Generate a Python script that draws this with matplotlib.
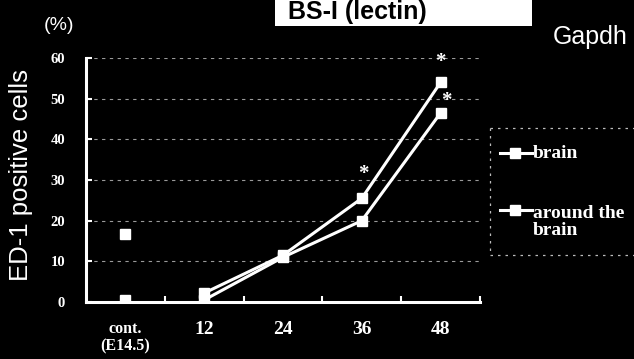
import numpy as np
import matplotlib
matplotlib.use('Agg')
import matplotlib.pyplot as plt

# categories on x axis
categories = ['cont.\n(E14.5)', '12', '24', '36', '48']
# ED-1 positive cells (%)
brain = [0.5, 2.2, 11.5, 25.5, 54.0]
around_brain = [16.7, 0.5, 11.0, 20.0, 46.5]
yticks = [0, 10, 20, 30, 40, 50, 60]
# significance marks: (category index, y value)
stars = [(4, 59.0), (4.07, 49.5), (3.02, 31.5)]

serif = 'Liberation Serif'
sans = 'Liberation Sans'

fig = plt.figure(figsize=(6.34, 3.59), dpi=100, facecolor='black')
ax = fig.add_axes([86 / 634, 1 - 302 / 359, (480 - 86) / 634, (302 - 58) / 359])
ax.set_facecolor('black')

x = np.arange(len(categories))
# cont. points are not joined to the time course
ax.plot(x[1:], brain[1:], color='white', lw=2.2, marker='s', ms=6.5, mfc='white', mec='white')
ax.plot(x[1:], around_brain[1:], color='white', lw=2.2, marker='s', ms=6.5, mfc='white', mec='white')
ax.plot([x[0], x[0]], [brain[0], around_brain[0]], ls='none', marker='s', ms=6.5, color='white')

ax.set_xlim(-0.5, 4.5)
ax.set_ylim(0, 60)

# faint dotted gridlines
for v in yticks[1:]:
    ax.axhline(v, color='#9a9a9a', lw=0.8, ls=(0, (3, 4)), zorder=0)

for sx, sy in stars:
    ax.text(sx, sy, '*', color='white', fontsize=15, family=serif, fontweight='bold',
            ha='center', va='center')

for side in ['top', 'right']:
    ax.spines[side].set_visible(False)
for side in ['left', 'bottom']:
    ax.spines[side].set_color('white')
    ax.spines[side].set_linewidth(2.2)

ax.set_yticks(yticks)
ax.set_yticklabels([str(v) for v in yticks], family=serif, fontweight='bold', fontsize=10.5, color='white')
ax.tick_params(axis='y', direction='in', length=4, width=1.5, color='white', pad=15)

ax.set_xticks(x)
ax.set_xticklabels(categories, family=serif, fontweight='bold', color='white', linespacing=1.05)
ax.set_xticks(np.arange(-0.5, 4.6, 1.0)[1:], minor=True)
ax.tick_params(axis='x', which='major', length=0, pad=14)
ax.tick_params(axis='x', which='minor', direction='in', length=4, width=1.5, color='white')
for i, lab in enumerate(ax.get_xticklabels()):
    lab.set_fontsize(11.5 if i == 0 else 14)

ax.set_ylabel('ED-1 positive cells', family=sans, fontsize=18.5, color='white')
ax.yaxis.set_label_coords(-0.135, 0.52)

fig.text(59 / 634, 1 - 26 / 359, '(%)', family=sans, fontsize=14, color='white', ha='center', va='center')

# title box, cut at the top like the scan
fig.patches.append(plt.Rectangle((275 / 634, 1 - 26 / 359), 257 / 634, 30 / 359,
                                 transform=fig.transFigure, facecolor='white', edgecolor='none'))
fig.text(288 / 634, 1 - 19 / 359, 'BS-I (lectin)', family=sans, fontweight='bold', fontsize=18,
         color='black', ha='left', va='baseline')
fig.text(553 / 634, 1 - 44 / 359, 'Gapdh', family=sans, fontsize=18, color='white', ha='left', va='baseline')

# legend drawn by hand with dotted frame
leg_items = [('brain', 153, 153), ('around the\nbrain', 210, 222)]
for label, line_y, text_y in leg_items:
    fy = 1 - line_y / 359
    fig.add_artist(plt.Line2D([500 / 634, 532 / 634], [fy, fy], color='white', lw=2.2,
                              transform=fig.transFigure))
    fig.add_artist(plt.Line2D([515 / 634], [fy], marker='s', ms=6.5, color='white',
                              transform=fig.transFigure))
    fig.text(533 / 634, 1 - text_y / 359, label, family=serif, fontweight='bold', fontsize=14,
             color='white', ha='left', va='center', linespacing=0.95)
dots = dict(color='#bbbbbb', lw=0.9, ls=(0, (2, 4)), transform=fig.transFigure)
fig.add_artist(plt.Line2D([490 / 634, 490 / 634], [1 - 128 / 359, 1 - 255 / 359], **dots))
fig.add_artist(plt.Line2D([490 / 634, 1.0], [1 - 128 / 359, 1 - 128 / 359], **dots))
fig.add_artist(plt.Line2D([490 / 634, 1.0], [1 - 255 / 359, 1 - 255 / 359], **dots))

fig.savefig('out.png', dpi=100, facecolor='black')
